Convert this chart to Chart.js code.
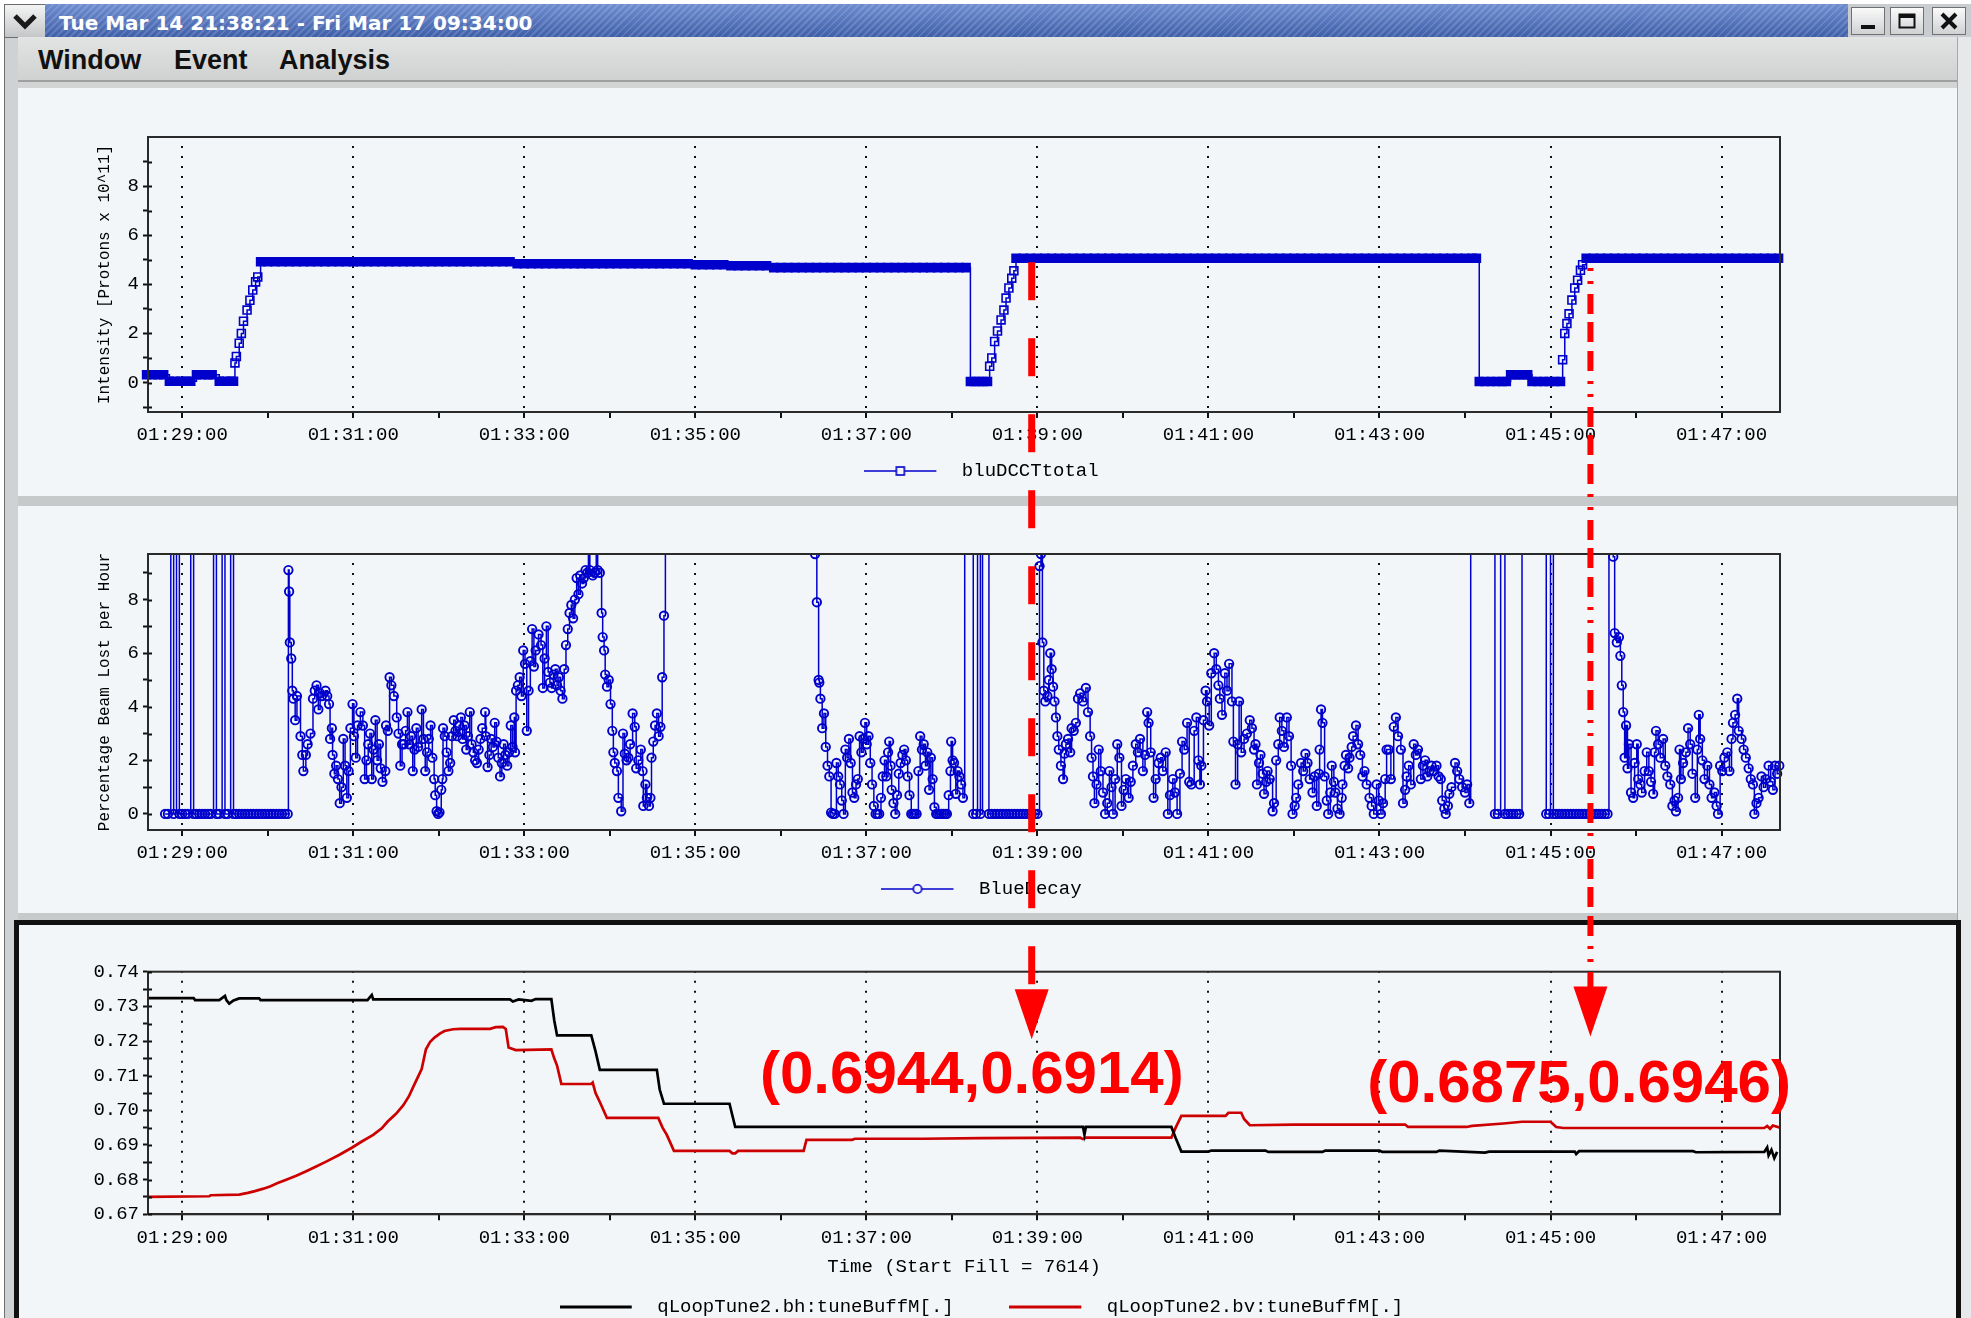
<!DOCTYPE html>
<html>
<head>
<meta charset="utf-8">
<title>Tue Mar 14 21:38:21 - Fri Mar 17 09:34:00</title>
<script src="https://cdn.jsdelivr.net/npm/chart.js@4.4.1/dist/chart.umd.min.js"></script>
<style>
  html, body { margin: 0; width: 1971px; height: 1318px; overflow: hidden; background: #ffffff; }
  .box { position: absolute; }
  #frameLeft { left: 4px; top: 37px; width: 13px; height: 1281px; background: #cfd2d4; border-left: 1px solid #6e6e6e; }
  #frameRight { left: 1957px; top: 37px; width: 14px; height: 1281px; background: #e6e8ea; border-left: 1px solid #a8a8a8; }
  #menuButton { left: 4px; top: 4px; width: 40px; height: 32px; background: linear-gradient(#f4f4f4, #c4c6c8); border: 1px solid #6c6c6c; }
  #titleBar { left: 45px; top: 4px; width: 1803px; height: 33px;
    background: repeating-linear-gradient(135deg, rgba(255,255,255,0.14) 0 2px, rgba(255,255,255,0) 2px 5px), linear-gradient(#6f8ed0, #3f5fa9); }
  #titleText { left: 59px; top: 11px; font: bold 20px 'DejaVu Sans'; line-height: 24px; color: #ffffff; white-space: nowrap; }
  #winButtons { left: 1848px; top: 4px; width: 123px; height: 33px; background: #c9cdd2; }
  .wbtn { position: absolute; top: 3px; width: 32px; height: 26px; background: linear-gradient(#fafafa, #cfd1d3); border: 1px solid #707070; }
  #menuBar { left: 18px; top: 37px; width: 1939px; height: 43px; background: linear-gradient(#e2e3e3, #d0d1d1); border-bottom: 2px solid #9d9fa0; }
  .menu { position: absolute; top: 8px; font: bold 27px 'Liberation Sans'; line-height: 30px; color: #111; }
  #gapTop { left: 18px; top: 82px; width: 1939px; height: 6px; background: #d3d5d5; }
  .panel { background: #f3f6f8; }
  .sep { background: #c7caca; }
  #tunePanel { left: 14px; top: 920px; width: 1937px; height: 420px; border: 5px solid #111111; border-bottom: none; background: #f3f6f8; }
  canvas.chart { position: absolute; }
  #notes { position: absolute; left: 0; top: 0; z-index: 10; pointer-events: none; }
</style>
</head>
<body>
<div class="box" id="frameLeft"></div>
<div class="box" id="frameRight"></div>
<div class="box" id="menuButton">
  <svg width="40" height="32"><polyline points="10,11 20,21 30,11" fill="none" stroke="#1a1a1a" stroke-width="5"/></svg>
</div>
<div class="box" id="titleBar"></div>
<div class="box" id="titleText">Tue Mar 14 21:38:21 - Fri Mar 17 09:34:00</div>
<div class="box" id="winButtons">
  <div class="wbtn" style="left:3px"><svg width="32" height="26"><rect x="9" y="17" width="14" height="4" fill="#111"/></svg></div>
  <div class="wbtn" style="left:42px"><svg width="32" height="26"><rect x="8.5" y="6.5" width="15" height="13" fill="none" stroke="#111" stroke-width="2"/><rect x="8" y="6" width="16" height="4" fill="#111"/></svg></div>
  <div class="wbtn" style="left:84px"><svg width="32" height="26"><path d="M9 6 L23 20 M23 6 L9 20" stroke="#111" stroke-width="4"/></svg></div>
</div>
<div class="box" id="menuBar">
  <span class="menu" style="left:20px">Window</span>
  <span class="menu" style="left:156px">Event</span>
  <span class="menu" style="left:261px">Analysis</span>
</div>
<div class="box" id="gapTop"></div>
<div class="box panel" style="left:18px;top:88px;width:1939px;height:408px"></div>
<div class="box sep" style="left:18px;top:496px;width:1939px;height:10px"></div>
<div class="box panel" style="left:18px;top:506px;width:1939px;height:407px"></div>
<div class="box sep" style="left:18px;top:913px;width:1939px;height:7px"></div>
<div class="box" id="tunePanel"></div>

<canvas class="chart" id="intensityChart" width="1937" height="408" style="left:20px;top:88px"></canvas>
<canvas class="chart" id="decayChart" width="1937" height="407" style="left:20px;top:506px"></canvas>
<canvas class="chart" id="tuneChart" width="1937" height="410" style="left:20px;top:925px"></canvas>
<canvas id="notes" width="1971" height="1318"></canvas>

<script>
// time axis: seconds after 01:29:00
const xMin = -24;
const xMax = 1121;
const xTickSeconds = [0, 60, 120, 180, 240, 300, 360, 420, 480, 540, 600, 660, 720, 780, 840, 900, 960, 1020, 1080];
const xTickLabels = ['01:29:00', '', '01:31:00', '', '01:33:00', '', '01:35:00', '', '01:37:00', '',
  '01:39:00', '', '01:41:00', '', '01:43:00', '', '01:45:00', '', '01:47:00'];

const intensityTicks = [-1, 0, 1, 2, 3, 4, 5, 6, 7, 8, 9];
const intensityTickLabels = ['', '0', '', '2', '', '4', '', '6', '', '8', ''];
const decayTicks = [0, 1, 2, 3, 4, 5, 6, 7, 8, 9];
const decayTickLabels = ['0', '', '2', '', '4', '', '6', '', '8', ''];
const tuneTicks = [0.67, 0.675, 0.68, 0.685, 0.69, 0.695, 0.70, 0.705, 0.71, 0.715, 0.72, 0.725, 0.73, 0.735, 0.74];
const tuneTickLabels = ['0.67', '', '0.68', '', '0.69', '', '0.70', '', '0.71', '', '0.72', '', '0.73', '', '0.74'];

// bluDCCTtotal [time, 10^11 protons]
const dcctPoints = [
  [-25,0.32],[-21,0.32],[-17,0.32],[-13,0.32],
  [-9,0.05],[-5,0.05],[-1,0.05],[3,0.05],[6,0.05],
  [10,0.32],[14,0.32],[18,0.32],[21,0.32],
  [26,0.05],[30,0.05],[34,0.05],[36,0.05],
  [37,0.8],[38,1.06],[40,1.6],[41.5,2.0],[43,2.5],[45.5,2.95],[47.5,3.35],[49.5,3.77],[51.5,4.1],[53,4.3],
  [55,4.92],[60,4.92],[65,4.92],[70,4.92],[75,4.92],[80,4.92],[85,4.92],[90,4.92],[95,4.92],[100,4.92],
  [105,4.92],[110,4.92],[115,4.92],[120,4.92],[125,4.92],[130,4.92],[135,4.92],[140,4.92],[145,4.92],[150,4.92],
  [155,4.92],[160,4.92],[165,4.92],[170,4.92],[175,4.92],[180,4.92],[185,4.92],[190,4.92],[195,4.92],[200,4.92],
  [205,4.92],[210,4.92],[215,4.92],[220,4.92],[225,4.92],[230,4.92],
  [235,4.84],[240,4.84],[245,4.84],[250,4.84],[255,4.84],[260,4.84],[265,4.84],[270,4.84],[275,4.84],[280,4.84],
  [285,4.84],[290,4.84],[295,4.84],[300,4.84],[305,4.84],[310,4.84],[315,4.84],[320,4.84],[325,4.84],[330,4.84],
  [335,4.84],[340,4.84],[345,4.84],[350,4.84],[355,4.84],
  [360,4.8],[365,4.8],[370,4.8],[375,4.8],[380,4.8],
  [385,4.76],[390,4.76],[395,4.76],[400,4.76],[405,4.76],[410,4.76],
  [415,4.68],[420,4.68],[425,4.68],[430,4.68],[435,4.68],[440,4.68],[445,4.68],[450,4.68],[455,4.68],[460,4.68],
  [465,4.68],[470,4.68],[475,4.68],[480,4.68],[485,4.68],[490,4.68],[495,4.68],[500,4.68],[505,4.68],[510,4.68],
  [515,4.68],[520,4.68],[525,4.68],[530,4.68],[535,4.68],[540,4.68],[545,4.68],[550,4.68],
  [553,0.04],[556,0.04],[559,0.04],[562,0.04],[565,0.04],
  [566.5,0.66],[568,1.0],[570,1.67],[572,2.1],[574.5,2.55],[576.5,2.95],[578,3.44],[580,3.85],[582,4.25],[583.5,4.55],
  [585,5.06],[590,5.06],[595,5.06],[600,5.06],[605,5.06],[610,5.06],[615,5.06],[620,5.06],[625,5.06],[630,5.06],
  [635,5.06],[640,5.06],[645,5.06],[650,5.06],[655,5.06],[660,5.06],[665,5.06],[670,5.06],[675,5.06],[680,5.06],
  [685,5.06],[690,5.06],[695,5.06],[700,5.06],[705,5.06],[710,5.06],[715,5.06],[720,5.06],[725,5.06],[730,5.06],
  [735,5.06],[740,5.06],[745,5.06],[750,5.06],[755,5.06],[760,5.06],[765,5.06],[770,5.06],[775,5.06],[780,5.06],
  [785,5.06],[790,5.06],[795,5.06],[800,5.06],[805,5.06],[810,5.06],[815,5.06],[820,5.06],[825,5.06],[830,5.06],
  [835,5.06],[840,5.06],[845,5.06],[850,5.06],[855,5.06],[860,5.06],[865,5.06],[870,5.06],[875,5.06],[880,5.06],
  [885,5.06],[890,5.06],[895,5.06],[900,5.06],[905,5.06],[908,5.06],
  [910,0.04],[914,0.04],[918,0.04],[922,0.04],[926,0.04],[929,0.04],
  [932,0.32],[935,0.32],[938,0.32],[941,0.32],[944,0.32],
  [947,0.04],[951,0.04],[955,0.04],[959,0.04],[963,0.04],[967,0.04],
  [968.5,0.93],[970,2.0],[971.5,2.4],[973,2.8],[975,3.36],[977,3.85],[979,4.17],[981,4.57],[982.5,4.8],
  [985,5.06],[990,5.06],[995,5.06],[1000,5.06],[1005,5.06],[1010,5.06],[1015,5.06],[1020,5.06],[1025,5.06],[1030,5.06],
  [1035,5.06],[1040,5.06],[1045,5.06],[1050,5.06],[1055,5.06],[1060,5.06],[1065,5.06],[1070,5.06],[1075,5.06],[1080,5.06],
  [1085,5.06],[1090,5.06],[1095,5.06],[1100,5.06],[1105,5.06],[1110,5.06],[1115,5.06],[1120,5.06]
];

// BlueDecay [time, % per hour]; 30 = off the top of the plot
const decayPoints = [
  [-12,0],[-10,0],[-8,30],[-6,0],[-4,30],[-2,0],[0,0],[2,0],[4,0],[6,30],[8,0],[10,0],[12,0],[14,0],[16,0],[18,0],[20,0],
  [22,30],[24,0],[26,0],[28,30],[30,0],[32,0],[34,30],[36,0],[38,0],[40,0],[42,0],[44,0],[46,0],[48,0],[50,0],[52,0],
  [54,0],[56,0],[58,0],[60,0],[62,0],[64,0],[66,0],[68,0],[70,0],[72,0],[74,0],
  [74.5,9.1],[75,8.3],[75.5,6.4],[76.5,5.8],[77.25,4.6],[78,4.3],[79.25,3.5],[80.5,4.4],[83,2.9],[84.25,2.2],[85,1.6],
  [86.75,2.2],[88,2.6],[90,3.0],[91.75,4.3],[93,4.6],[94.25,4.8],[95.5,3.9],[96.75,4.5],[98,4.4],[100.5,4.6],[101.75,4.4],
  [103,4.1],[103.75,2.8],[105,3.2],[105.5,2.2],[106.75,1.5],[108,1.8],[109.25,1.3],[110.5,0.4],[111.75,1.0],[113,2.8],
  [114.25,1.8],[115.5,0.6],[116.75,1.6],[118,3.2],[119.5,4.1],[120.5,2.9],[121.75,2.1],[123,3.3],[125,3.8],[126.75,3.3],
  [128,1.3],[129.25,2.0],[130.5,2.6],[131.75,3.0],[133,1.3],[134.25,2.4],[135.5,3.5],[136.75,2.0],[138,2.6],[139.25,1.7],
  [140.5,1.2],[142.5,1.6],[143,3.3],[144.25,3.1],[145.5,5.1],[146.75,4.8],[148.5,4.4],[150.5,3.6],[151.75,3.0],[153,1.8],
  [154.25,2.6],[155.5,2.6],[156.75,3.1],[158,3.8],[159.25,2.6],[160.5,2.9],[161.75,1.6],[163,2.4],[164.25,3.2],[165.5,2.5],
  [168,3.9],[169.25,2.8],[170.5,1.6],[171.75,2.3],[173,2.8],[174.25,3.3],[175.5,2.1],[176.75,1.3],[177.5,0.7],[178.5,0.1],
  [179.5,0],[180.5,0.06],[181.75,0.9],[182.5,1.3],[183,3.2],[184.25,2.9],[185.5,2.3],[186.75,1.6],[188,1.9],[189.25,2.9],
  [190.5,3.5],[191.75,3.1],[193,2.9],[194.25,3.3],[195.5,3.6],[196.75,2.8],[198,3.3],[199.25,2.4],[200.5,2.9],[201.75,3.8],
  [203,2.6],[204.25,2.3],[205.5,2.0],[206.75,1.9],[208,2.4],[209.25,2.8],[210.5,3.2],[212.5,3.8],[213,2.9],[214.25,1.75],
  [215.5,2.2],[216.75,2.8],[218,2.5],[219.25,3.4],[220.5,2.7],[221.75,2.1],[223,1.4],[224.25,1.9],[225.5,2.6],[226.75,2.2],
  [228,1.8],[229.25,2.3],[230.5,3.3],[231.75,2.5],[233,3.6],[233.5,2.3],[234.25,4.6],[235.5,4.8],[236.75,5.1],[238,4.4],
  [239.25,6.1],[240.5,5.6],[241.75,3.1],[243,4.6],[244.25,5.7],[245.5,6.9],[246.75,5.5],[248,6.1],[250,6.7],[251.75,6.3],
  [253,4.7],[254.25,5.8],[255.5,7.0],[256.75,5.3],[258,4.9],[259.25,4.7],[260.5,5.2],[261.75,5.4],[263,4.8],[264.25,5.1],
  [265.5,4.6],[266.75,4.3],[268,5.4],[269.25,6.3],[270.5,6.9],[271.75,7.5],[273,7.8],[274.25,7.3],[275.5,8.0],[276.75,8.8],
  [278,8.2],[279.25,8.9],[280.5,8.6],[281.75,8.8],[283,9.1],[284.25,9.0],[285,30],[286,9.1],[288,8.9],[289.25,9.0],
  [290.5,30],[291.5,9.1],[293,9.0],[294.25,7.5],[295,6.6],[296,6.1],[296.75,5.2],[298,4.75],[299.25,5.0],[300.5,4.1],
  [301.75,3.1],[302.5,2.3],[303.5,1.9],[305,1.6],[306,0.6],[308,0.1],[309.25,3.0],[310.5,2.25],[311.75,2.0],[313,2.1],
  [314.25,2.6],[316,3.75],[317.5,3.25],[318.5,1.7],[320,2.0],[321.75,2.4],[323,1.6],[323.5,0.3],[325,1.1],[326,0.6],
  [327.5,0.3],[328.5,0.6],[329.25,2.1],[330.5,2.7],[331.75,3.3],[333,3.75],[334.25,2.9],[335.5,3.25],[336.75,5.1],[338,7.4],
  [339,30],[443,30],
  [444,9.7],[445.25,7.9],[446.5,5.0],[447,4.9],[447.75,4.3],[449,3.2],[450.25,3.75],[451.5,2.5],[452.75,1.8],[454,1.4],
  [455.25,0.05],[456.5,0],[457.75,0],[459,1.9],[460.25,1.4],[461.5,1.1],[462.75,0.5],[464,0],[465.25,2.4],[466.5,2.1],
  [467.75,2.8],[469,1.9],[470.25,0.8],[471.5,0.6],[472.75,1.1],[474,1.3],[475.25,2.9],[476.5,2.3],[477.75,2.8],[479,3.4],
  [480.25,2.6],[481.5,2.9],[482.75,1.9],[484,1.1],[485.25,0.3],[486.5,0],[487.75,0],[489,0],[490.25,0.6],[491.5,1.4],
  [492.75,2.0],[494,1.4],[495.25,2.3],[496,2.7],[497,1.8],[497.75,0.9],[499,0.4],[500.25,0],[501.5,0.7],[502.75,1.5],
  [504,1.9],[505.25,2.2],[506.5,2.4],[507.75,2.0],[509,1.4],[510.25,0.7],[511.5,0],[512.75,0],[514,0],[515.25,0],
  [516.5,1.6],[517.75,2.9],[519,2.4],[520.25,2.6],[521.5,1.8],[522.75,2.3],[524,0.9],[525.25,2.1],[526.5,1.3],[527.75,0.25],
  [529,0],[530.25,0],[531.5,0],[532.75,0],[534,0],[535.25,0],[536.5,0],[537.75,0.7],[539,1.6],[539.5,2.7],
  [540.5,2.0],[541.5,1.9],[542.75,0.75],[544,1.6],[545.25,1.4],[546.5,1.1],[547.75,0.6],
  [549,30],[554,30],[555,0],[557,0],[558,30],[560,0],[561.5,30],[564,30],[566,0],[568,0],[570,0],[572,0],[574,0],
  [576,0],[578,0],[580,0],[582,0],[584,0],[586,0],[588,0],[590,0],[592,0],[594,0],[596,0],[598,0],[600,0],
  [601.5,9.25],[602.5,9.7],[603.5,6.4],[604.5,4.6],[605.5,4.2],[607,4.4],[608,5.0],[609,6.0],[610,5.4],[611,4.75],
  [612,4.2],[613,3.6],[614,2.9],[615,2.4],[616.5,1.8],[618,1.3],[619,2.25],[620,2.6],[621.5,2.8],[623,2.3],
  [624,3.2],[625.5,3.1],[627,3.4],[628.5,4.3],[630,4.5],[632,4.2],[634,4.7],[635.5,3.8],[637,2.9],[638,2.1],
  [639,1.4],[640,0.4],[641.5,1.1],[643,2.4],[644.5,1.6],[646,0.8],[647.5,0],[649,0.4],[650.5,1.6],[652,1.0],
  [653,0],[654.5,1.3],[656,2.6],[657.5,2.1],[659,0.3],[660.5,0.9],[662,1.3],[664,0.6],[665.5,1.2],[667,1.8],
  [669,2.6],[670.5,2.3],[672,2.8],[674,1.6],[675.5,2.2],[677,3.8],[678,3.4],[679.5,2.3],[681.5,0.6],[683,1.3],
  [685,1.9],[686.5,2.1],[688,1.6],[690,2.3],[691.5,0],[693,0.7],[695,1.3],[696.5,0.8],[698,0],[700,1.5],
  [701.5,2.7],[703,2.4],[705,3.4],[706.5,1.2],[708,1.1],[710,3.1],[711.5,3.6],[713,2.0],[714,1.1],[715,1.8],
  [716.5,3.5],[718,4.6],[719,4.2],[720.5,3.3],[722,5.25],[724,6.0],[725.5,5.4],[727,4.8],[728,4.3],[729.5,3.7],
  [731.5,5.25],[733,4.6],[734.5,5.6],[736.5,4.2],[737.5,2.7],[739,1.1],[740.5,2.6],[741.5,4.2],[743,2.3],[745,2.8],
  [747,3.0],[749,3.5],[750.5,3.2],[752,2.4],[753,2.6],[754,1.1],[755.5,1.9],[756.5,2.2],[758,1.5],[759,0.75],
  [760.5,1.2],[761.5,1.6],[763,1.3],[765,0.1],[766,0.4],[767.5,2.0],[769,2.6],[770,3.6],[771.5,3.1],[773,2.5],
  [775,3.6],[776.5,2.9],[778,1.8],[779,0],[780.5,0.3],[781.5,0.6],[783,1.1],[785,1.9],[786.5,1.6],[788,2.25],
  [789.5,1.9],[791,1.3],[793,0.8],[794.5,1.4],[796,0.3],[797.5,1.5],[798,2.4],[799,3.9],[800,3.4],[801.5,1.4],
  [803,0.5],[804,0],[805.5,0.8],[806.5,1.8],[808,1.2],[809,0.8],[810.5,0.2],[812,0],[813.5,0.6],[814,1.1],
  [815.5,1.8],[816.5,2.2],[818,1.7],[819,2.1],[820.5,2.5],[821.5,2.9],[823.5,3.3],[825,2.6],[826.5,2.2],[828,1.4],
  [829.5,1.6],[831,1.1],[833,0.6],[834.5,0.3],[836,0],[838,1.1],[839.5,0.5],[841,0],[842.5,0.4],[844,1.3],
  [845,2.4],[846.5,2.4],[848,1.3],[850,3.25],[851.5,3.6],[853,2.9],[855,2.4],[856.5,0.4],[858,0.9],[859,1.4],
  [860.5,1.8],[862,1.1],[864,2.6],[865.5,2.2],[867,2.4],[869,1.3],[870.5,1.8],[872,2.0],[873.5,1.4],[875,1.6],
  [876.5,1.8],[878,1.6],[880,1.8],[881.5,1.4],[883,1.3],[884,0.5],[885.5,0.2],[886.5,0],[888,0.3],[889,0.75],
  [890.5,1.0],[893,1.9],[894.5,1.6],[896,1.3],[898,1.0],[900,0.8],[901.5,1.1],[903,0.4],
  [904,30],[920,30],[921,0],[923,0],[925,30],[928,0],[930,0],[932,0],[934,0],[936,0],[938,0],[940,30],
  [957,0],[959,0],[960,30],[962,0],[964,0],[966,0],[968,0],[970,0],[972,0],[974,0],[976,0],[978,0],[980,0],
  [982,0],[984,0],[986,0],[988,0],[990,0],[992,0],[994,0],[996,0],[998,0],[1000,0],[1001,30],[1003,30],
  [1004,9.6],[1005,6.75],[1006.5,6.4],[1008,6.6],[1009,5.9],[1010,4.8],[1011,3.8],[1012,2.1],[1013,3.3],[1014,1.7],
  [1015,2.6],[1016.5,0.8],[1018,0.6],[1019,1.9],[1020.5,2.6],[1021.5,1.3],[1023,1.1],[1024,0.8],[1026,1.6],[1027.5,2.3],
  [1029,1.6],[1030.5,1.2],[1032,0.75],[1033,2.3],[1034,3.1],[1035.5,2.6],[1037,2.1],[1039,2.8],[1040.5,1.8],[1042,1.4],
  [1044,1.1],[1045.5,0.3],[1047,0.5],[1048,0.1],[1049.5,0.6],[1050.5,2.4],[1051.5,1.3],[1053,1.9],[1055,2.3],[1056.5,3.2],
  [1058,2.6],[1059.5,1.5],[1061.5,0.6],[1063,2.4],[1064,3.7],[1065,2.8],[1066.5,2.0],[1068,1.3],[1070,1.8],[1071.5,1.1],
  [1073,0.6],[1075,0.8],[1076.5,0.3],[1077.5,0],[1079,1.8],[1080.5,1.6],[1082,2.1],[1084,2.3],[1085.5,1.6],[1087,2.8],
  [1088,3.4],[1089.5,3.7],[1091,4.3],[1092,3.1],[1094,2.8],[1095.5,2.4],[1097,2.1],[1099,1.7],[1100.5,1.3],[1102,1.1],
  [1103,0],[1104.5,0.4],[1106,0.6],[1108,1.4],[1109.5,1.0],[1111,1.3],[1113,1.8],[1114.5,1.2],[1116,0.9],[1117.5,1.8],
  [1119,1.5],[1120.5,1.8]
];

// qLoopTune2.bh:tuneBuffM[.]
const bhPoints = [
  [-24,0.7324],[8,0.7324],[9,0.7318],[26,0.7318],[30,0.7330],[31,0.7318],[33,0.7308],[36,0.7317],[40,0.7323],[54,0.7323],
  [55,0.7318],[130,0.7318],[133,0.7333],[134,0.7320],[230,0.7320],[232,0.7314],[236,0.7320],[245,0.7316],[248,0.7321],[259,0.7321],
  [261,0.7260],[263,0.7216],[287,0.7216],[290,0.7170],[293,0.7117],[333,0.7117],[335,0.7060],[338,0.7019],[384,0.7019],[386,0.6985],
  [388,0.6952],[632,0.6952],[633,0.6930],[634,0.6952],[694,0.6952],[697,0.6920],[701,0.6881],[720,0.6881],[722,0.6884],[760,0.6884],
  [762,0.6880],[800,0.6880],[802,0.6884],[840,0.6884],[842,0.6880],[880,0.6880],[882,0.6884],[914,0.6878],[917,0.6881],[977,0.6881],
  [978,0.6874],[980,0.6882],[1060,0.6882],[1062,0.6879],[1110,0.6880],[1112,0.6893],[1113,0.6870],[1115,0.6886],[1117,0.6862],[1119,0.6880]
];

// qLoopTune2.bv:tuneBuffM[.]
const bvPoints = [
  [-24,0.6750],[19,0.6752],[20,0.6755],[40,0.6757],[46,0.6762],[51,0.6767],[57,0.6774],[62,0.6781],[67,0.6790],[73,0.6800],
  [80,0.6811],[87,0.6824],[94,0.6838],[101,0.6852],[110,0.6871],[119,0.6892],[126,0.6910],[134,0.6929],[140,0.6948],[144,0.6967],
  [150,0.6990],[155,0.7014],[159,0.7040],[162,0.7067],[165,0.7093],[168,0.7119],[171,0.7176],[174,0.7198],[177,0.7210],[181,0.7222],
  [184,0.7229],[190,0.7234],[195,0.7235],[216,0.7235],[220,0.7240],[225,0.7241],[227,0.7235],[229,0.7181],[234,0.7174],[259,0.7176],
  [261,0.7150],[263,0.7129],[266,0.7076],[287,0.7076],[288,0.7080],[290,0.7050],[293,0.7024],[298,0.6978],[334,0.6978],[337,0.6950],
  [340,0.6929],[345,0.6883],[384,0.6883],[386,0.6876],[388,0.6876],[390,0.6883],[436,0.6883],[438,0.6915],[470,0.6915],[472,0.6918],
  [520,0.6918],[560,0.6920],[630,0.6921],[632,0.6917],[634,0.6921],[694,0.6921],[697,0.6950],[701,0.6984],[732,0.6984],[734,0.6993],
  [743,0.6993],[745,0.6975],[749,0.6957],[780,0.6959],[858,0.6959],[860,0.6952],[901,0.6952],[905,0.6955],[927,0.6962],[940,0.6967],
  [960,0.6967],[964,0.6952],[969,0.6949],[1110,0.6949],[1112,0.6955],[1114,0.6947],[1116,0.6956],[1121,0.6950]
];

// hand-drawn notes on the screenshot, anchored in data units
const noteArrowTimes = [596, 988];
const noteArrowFrom = [4.9, 4.66];        // intensity at which each arrow starts
const noteArrowTo = [0.7205, 0.7213];     // tune at which each arrow points
const noteTexts = ['(0.6944,0.6914)', '(0.6875,0.6946)'];
const noteTextTimes = [554, 980];
const noteTextTunes = [0.7098, 0.7071];

const MONO = 'Liberation Mono';
const BLUE = '#0000cc';
const RED = '#ff0000';
const TUNE_RED = '#cc0000';

Chart.defaults.font.family = MONO;
Chart.defaults.color = '#000';

function swatch(color, width, marker) {
  const c = document.createElement('canvas');
  c.width = 88;
  c.height = 20;
  const g = c.getContext('2d');
  g.strokeStyle = color;
  g.lineWidth = width;
  g.beginPath();
  g.moveTo(0, 10);
  g.lineTo(72, 10);
  g.stroke();
  g.lineWidth = 1.6;
  if (marker === 'rect') {
    g.fillStyle = '#f3f6f8';
    g.fillRect(32, 6, 8, 8);
    g.strokeRect(32, 6, 8, 8);
  } else if (marker === 'circle') {
    g.fillStyle = '#f3f6f8';
    g.beginPath();
    g.arc(36, 10, 4.2, 0, Math.PI * 2);
    g.fill();
    g.stroke();
  }
  return c;
}

function timeAxis(height, title, titleGap) {
  return {
    type: 'linear',
    min: xMin,
    max: xMax,
    afterBuildTicks: s => { s.ticks = xTickSeconds.map(v => ({ value: v })); },
    afterFit: s => { s.height = height; },
    ticks: {
      autoSkip: false, maxRotation: 0, minRotation: 0, padding: 6, color: '#000',
      font: { family: MONO, size: 19 },
      callback: (v, i) => xTickLabels[i]
    },
    grid: {
      color: c => (xTickLabels[c.index] ? '#111' : 'rgba(0,0,0,0)'),
      lineWidth: 2,
      tickColor: '#111',
      tickLength: 6,
      tickWidth: 2
    },
    border: { color: '#2a2a2a', width: 2, dash: [2, 8], dashOffset: 1 },
    title: {
      display: !!title, text: title || '', color: '#000',
      font: { family: MONO, size: 19 },
      padding: { top: 0, bottom: titleGap || 0 }
    }
  };
}

function valueAxis(min, max, ticks, labels, title) {
  return {
    type: 'linear',
    position: 'left',
    min: min,
    max: max,
    afterBuildTicks: s => { s.ticks = ticks.map(v => ({ value: v })); },
    afterFit: s => { s.width = 128; },
    ticks: {
      autoSkip: false, padding: 4, color: '#000',
      font: { family: MONO, size: 19 },
      callback: (v, i) => labels[i]
    },
    grid: { drawOnChartArea: false, drawTicks: true, tickLength: 5, tickColor: '#111', tickWidth: 2 },
    border: { color: '#2a2a2a', width: 2 },
    title: {
      display: !!title, text: title || '', color: '#000',
      font: { family: MONO, size: 16 },
      padding: { top: 75, bottom: 0 }
    }
  };
}

// empty axis that keeps the right margin free, so the legend stays centred on the panel
const rightMargin = {
  type: 'linear', position: 'right', display: true,
  afterFit: s => { s.width = 163; },
  grid: { display: false }, ticks: { display: false }, border: { display: false }
};

function legendOptions(images) {
  return {
    position: 'bottom',
    labels: {
      usePointStyle: true,
      pointStyleWidth: 88,
      padding: 10,
      color: '#000',
      font: { family: MONO, size: 19 },
      generateLabels: chart => chart.data.datasets.map((ds, i, all) => ({
        text: ds.label + (i < all.length - 1 ? '    ' : ''),
        pointStyle: images[i],
        fillStyle: 'rgba(0,0,0,0)',
        strokeStyle: 'rgba(0,0,0,0)',
        lineWidth: 0,
        hidden: false,
        datasetIndex: i,
        fontColor: '#000'
      }))
    }
  };
}

const plotFrame = {
  id: 'plotFrame',
  afterDraw(chart) {
    const { ctx, chartArea: a } = chart;
    const y = chart.scales.y;
    ctx.save();
    ctx.strokeStyle = '#2a2a2a';
    ctx.lineWidth = 2;
    ctx.strokeRect(a.left, a.top, a.right - a.left, a.bottom - a.top);
    ctx.strokeStyle = '#111';
    ctx.beginPath();
    y.ticks.forEach(t => {
      const py = Math.round(y.getPixelForValue(t.value)) + 0.5;
      ctx.moveTo(a.left, py);
      ctx.lineTo(a.left + 4, py);
    });
    ctx.stroke();
    ctx.restore();
  }
};

function flatFill(c) {
  const d = c.dataset.data;
  const i = c.dataIndex;
  const v = d[i][1];
  const flat = (d[i - 1] && d[i - 1][1] === v) || (d[i + 1] && d[i + 1][1] === v);
  return flat ? BLUE : 'rgba(0,0,0,0)';
}

const common = {
  responsive: false,
  animation: false,
  devicePixelRatio: 1,
  events: [],
  plugins: { tooltip: { enabled: false } }
};

const intensityChart = new Chart(document.getElementById('intensityChart'), {
  type: 'line',
  data: {
    datasets: [{
      label: 'bluDCCTtotal',
      data: dcctPoints,
      yAxisID: 'y',
      borderColor: BLUE,
      borderWidth: 1.5,
      stepped: true,
      pointStyle: 'rect',
      pointRadius: 5.6,
      pointBorderWidth: 1.6,
      pointBorderColor: BLUE,
      pointBackgroundColor: flatFill,
      clip: { left: 8, right: 8, top: 0, bottom: 0 }
    }]
  },
  options: Object.assign({}, common, {
    layout: { padding: { top: 49, right: 14, bottom: 5.5, left: 0 } },
    scales: {
      x: timeAxis(39.5),
      y: valueAxis(-1.2, 10, intensityTicks, intensityTickLabels, 'Intensity [Protons x 10^11]'),
      yPad: rightMargin
    },
    plugins: { tooltip: { enabled: false }, legend: legendOptions([swatch(BLUE, 1.5, 'rect')]) }
  }),
  plugins: [plotFrame]
});

const decayChart = new Chart(document.getElementById('decayChart'), {
  type: 'line',
  data: {
    datasets: [{
      label: 'BlueDecay',
      data: decayPoints,
      yAxisID: 'y',
      borderColor: BLUE,
      borderWidth: 1.5,
      stepped: true,
      pointStyle: 'circle',
      pointRadius: 4.2,
      pointBorderWidth: 1.9,
      pointBorderColor: BLUE,
      pointBackgroundColor: 'rgba(0,0,0,0)',
      clip: { left: 6, right: 6, top: 0, bottom: 6 }
    }]
  },
  options: Object.assign({}, common, {
    layout: { padding: { top: 48, right: 14, bottom: 4.5, left: 0 } },
    scales: {
      x: timeAxis(39.5),
      y: valueAxis(-0.6, 9.7, decayTicks, decayTickLabels, 'Percentage Beam Lost per Hour'),
      yPad: rightMargin
    },
    plugins: { tooltip: { enabled: false }, legend: legendOptions([swatch(BLUE, 1.5, 'circle')]) }
  }),
  plugins: [plotFrame]
});

const tuneChart = new Chart(document.getElementById('tuneChart'), {
  type: 'line',
  data: {
    datasets: [
      { label: 'qLoopTune2.bh:tuneBuffM[.]', data: bhPoints, yAxisID: 'y', borderColor: '#000000', borderWidth: 2.7, pointRadius: 0, tension: 0 },
      { label: 'qLoopTune2.bv:tuneBuffM[.]', data: bvPoints, yAxisID: 'y', borderColor: TUNE_RED, borderWidth: 2.7, pointRadius: 0, tension: 0 }
    ]
  },
  options: Object.assign({}, common, {
    layout: { padding: { top: 46.7, right: 14, bottom: 8.5, left: 0 } },
    scales: {
      x: timeAxis(73.2, 'Time (Start Fill = 7614)', 9.1),
      y: valueAxis(0.67, 0.74, tuneTicks, tuneTickLabels, ''),
      yPad: rightMargin
    },
    plugins: { tooltip: { enabled: false }, legend: legendOptions([swatch('#000000', 3, null), swatch(TUNE_RED, 3, null)]) }
  }),
  plugins: [plotFrame]
});

function drawNotes() {
  const g = document.getElementById('notes').getContext('2d');
  const top = intensityChart.canvas.getBoundingClientRect();
  const bot = tuneChart.canvas.getBoundingClientRect();
  const xs = tuneChart.scales.x;
  const ys = tuneChart.scales.y;
  const yi = intensityChart.scales.y;
  const widths = [7, 6];
  const dashes = [[38, 38], [3, 10, 3, 10, 20, 8, 20, 9, 20, 10]];

  noteArrowTimes.forEach((t, i) => {
    const x = bot.left + xs.getPixelForValue(t);
    const y0 = top.top + yi.getPixelForValue(noteArrowFrom[i]);
    const tip = bot.top + ys.getPixelForValue(noteArrowTo[i]);
    g.save();
    g.strokeStyle = RED;
    g.lineWidth = widths[i];
    g.setLineDash(dashes[i]);
    g.beginPath();
    g.moveTo(x, y0);
    g.lineTo(x, tip - 48);
    g.stroke();
    g.restore();
    g.fillStyle = RED;
    g.beginPath();
    g.moveTo(x - 17, tip - 50);
    g.lineTo(x + 17, tip - 50);
    g.lineTo(x, tip);
    g.closePath();
    g.fill();
  });

  g.font = 'bold 60px "Liberation Sans"';
  g.textAlign = 'center';
  g.textBaseline = 'middle';
  g.fillStyle = RED;
  noteTexts.forEach((s, i) => {
    g.fillText(s, bot.left + xs.getPixelForValue(noteTextTimes[i]), bot.top + ys.getPixelForValue(noteTextTunes[i]));
  });
}

drawNotes();
</script>
</body>
</html>
